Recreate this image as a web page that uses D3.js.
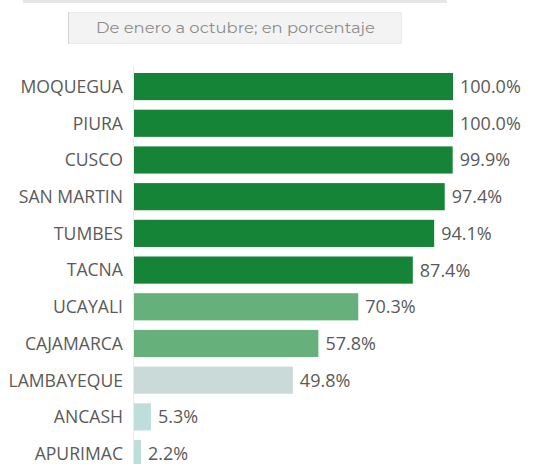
<!DOCTYPE html>
<html>
<head>
<meta charset="utf-8">
<script src="https://cdn.jsdelivr.net/npm/d3@7"></script>
<style>
  body { margin: 0; background: #fff; }
  svg { display: block; }
</style>
</head>
<body>
<div id="grafico"></div>
<script>
// datos
const regiones = ["MOQUEGUA", "PIURA", "CUSCO", "SAN MARTIN", "TUMBES", "TACNA",
    "UCAYALI", "CAJAMARCA", "LAMBAYEQUE", "ANCASH", "APURIMAC"];
const avance = [100.0, 100.0, 99.9, 97.4, 94.1, 87.4, 70.3, 57.8, 49.8, 5.3, 2.2];
const subtitulo = "De enero a octubre; en porcentaje";

const W = 543, H = 464;

function colorBarra(v) {
    if (v >= 80) return "#168437";
    if (v >= 55) return "#66b07c";
    if (v >= 10) return "#cadad8";
    return "#bedddb";
}

const datos = regiones.map((r, i) => ({ region: r, valor: avance[i] }));

const svg = d3.select("#grafico")
    .append("svg")
    .attr("width", W)
    .attr("height", H);

// franja gris superior
svg.append("rect")
    .attr("x", 23).attr("y", 0)
    .attr("width", 424).attr("height", 3)
    .attr("fill", "#e6e6e6");

// caja del subtitulo
svg.append("rect")
    .attr("x", 68.5).attr("y", 12.5)
    .attr("width", 333).attr("height", 31)
    .attr("fill", "#f3f3f3")
    .attr("stroke", "#ececec");
svg.append("line")
    .attr("x1", 68.5).attr("x2", 68.5)
    .attr("y1", 12).attr("y2", 44)
    .attr("stroke", "#d4d4d4");

svg.append("text")
    .attr("x", 96).attr("y", 28)
    .attr("dy", "0.35em")
    .attr("textLength", 279)
    .attr("lengthAdjust", "spacingAndGlyphs")
    .style("font-family", "Montserrat, 'Open Sans', sans-serif")
    .style("font-size", "15px")
    .style("fill", "#8c8c8c")
    .text(subtitulo);

const x = d3.scaleLinear()
    .domain([0, 100])
    .range([134, 453]);

const step = 36.7, pad = 0.26;
const y = d3.scaleBand()
    .domain(regiones)
    .range([73 - step * pad / 2, 73 - step * pad / 2 + step * regiones.length])
    .paddingInner(pad)
    .paddingOuter(pad / 2);

// linea del eje
svg.append("line")
    .attr("x1", 133.5).attr("x2", 133.5)
    .attr("y1", 66).attr("y2", H)
    .attr("stroke", "#ececec");

svg.selectAll(".barra")
    .data(datos)
    .enter()
    .append("rect")
    .attr("class", "barra")
    .attr("x", x(0))
    .attr("y", d => y(d.region))
    .attr("width", d => x(d.valor) - x(0))
    .attr("height", y.bandwidth())
    .attr("fill", d => colorBarra(d.valor));

const fuente = "'Open Sans', 'Segoe UI', sans-serif";

svg.selectAll(".etiqueta")
    .data(datos)
    .enter()
    .append("text")
    .attr("class", "etiqueta")
    .attr("x", 123)
    .attr("y", d => y(d.region) + y.bandwidth() / 2)
    .attr("dy", "0.36em")
    .attr("text-anchor", "end")
    .style("font-family", fuente)
    .style("font-size", "17.6px")
    .style("fill", "#5a5a5a")
    .text(d => d.region);

svg.selectAll(".valor")
    .data(datos)
    .enter()
    .append("text")
    .attr("class", "valor")
    .attr("x", d => x(d.valor) + 7)
    .attr("y", d => y(d.region) + y.bandwidth() / 2)
    .attr("dy", "0.36em")
    .style("font-family", fuente)
    .style("font-size", "18px")
    .style("fill", "#5a5a5a")
    .text(d => d3.format(".1f")(d.valor) + "%");
</script>
</body>
</html>
